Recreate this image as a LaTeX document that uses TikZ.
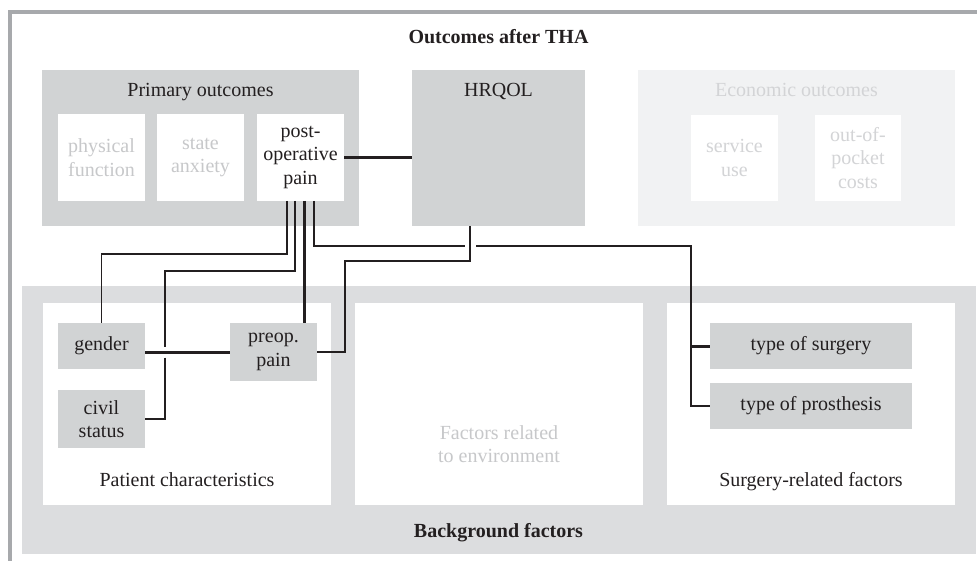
\documentclass[tikz,border=0pt]{standalone}
\usepackage{fontspec}
\setmainfont{Liberation Serif}
\definecolor{ink}{HTML}{231F20}
\definecolor{boxgray}{HTML}{D1D3D4}
\definecolor{bandgray}{HTML}{DCDDDF}
\definecolor{palegray}{HTML}{F1F2F3}
\definecolor{fadetext}{HTML}{C7C8CA}
\definecolor{paletext}{HTML}{D3D4D6}
\definecolor{framegray}{HTML}{A7A9AC}
\newcommand\diagfont{\fontsize{20}{23.5}\selectfont}
\tikzset{
  area/.style={rectangle, draw=none, inner sep=0pt, outer sep=0pt},
  item/.style={area, align=center, font=\diagfont, text=ink},
  caption/.style={anchor=base, inner sep=0pt, align=center, font=\diagfont, text=ink},
  thinlink/.style={draw=ink, line width=1.8pt},
  thicklink/.style={draw=ink, line width=3pt},
}
\begin{document}
\begin{tikzpicture}[x=1pt,y=-1pt]
\useasboundingbox (0,0) rectangle (977,561);

% outer frame
\draw[framegray, line width=3.5pt] (10,561) -- (10,12) -- (977,12);

\node[caption, font=\diagfont\bfseries] (title) at (498.5,44) {Outcomes after THA};

% outcome panels
\node[area, fill=boxgray, minimum width=317, minimum height=156] (primary) at (200.5,148) {};
\node[caption] (primaryT) at (200.5,96.7) {Primary outcomes};
\node[item, fill=white, text=fadetext, minimum width=87, minimum height=87] (phys) at (101.5,157.5) {physical\\function};
\node[item, fill=white, text=fadetext, minimum width=87, minimum height=87] (anx) at (200.5,157.5) {state\\anxiety};
\node[item, fill=white, minimum width=87, minimum height=87] (pop) at (300.5,157.5) {post-\\operative\\pain};

\node[area, fill=boxgray, minimum width=173, minimum height=156] (hrqol) at (498.5,148) {};
\node[caption] (hrqolT) at (498.5,96.7) {HRQOL};

\node[area, fill=palegray, minimum width=317, minimum height=156] (econ) at (796.5,148) {};
\node[caption, text=paletext] (econT) at (796.5,96.7) {Economic outcomes};
\node[item, fill=white, text=paletext, minimum width=87, minimum height=86] (serv) at (734.5,158) {service\\use};
\node[item, fill=white, text=paletext, minimum width=86, minimum height=86] (oop) at (858,158) {out-of-\\pocket\\costs};

% background factors band
\node[area, fill=bandgray, minimum width=954, minimum height=268] (band) at (499,420) {};
\node[caption, font=\diagfont\bfseries] (bandT) at (498.5,537.7) {Background factors};

\node[area, fill=white, minimum width=288, minimum height=202] (patient) at (187,404) {};
\node[caption] (patientT) at (187,486.7) {Patient characteristics};
\node[area, fill=white, minimum width=288, minimum height=202] (env) at (499,404) {};
\node[caption, text=fadetext] (envT) at (499,462.7) {Factors related\\to environment};
\node[area, fill=white, minimum width=288, minimum height=202] (surg) at (811,404) {};
\node[caption] (surgT) at (811,486.7) {Surgery-related factors};

\node[item, fill=boxgray, minimum width=87, minimum height=46] (gender) at (101.5,346) {gender};
\node[item, fill=boxgray, minimum width=87, minimum height=58] (civil) at (101.5,419) {civil\\status};
\node[item, fill=boxgray, minimum width=87, minimum height=58] (preop) at (273.5,352) {preop.\\pain};
\node[item, fill=boxgray, minimum width=202, minimum height=46] (tsurg) at (811,346) {type of surgery};
\node[item, fill=boxgray, minimum width=202, minimum height=46] (tpros) at (811,406) {type of prosthesis};

% junction and crossing points
\coordinate (hopTop) at (165,347.3);
\coordinate (hopBot) at (165,357.7);
\coordinate (gapL) at (465,246);
\coordinate (gapR) at (476,246);
\coordinate (bend) at (690.7,246);

% connectors
\draw[thicklink] (pop.east) -- (hrqol.west |- pop.east);
\draw[thinlink] ([xshift=-13.2pt]pop.south) -- ++(0,53) -| (gender.north);
\draw[thinlink] ([xshift=-5.5pt]pop.south) -- ++(0,69.7) -| (hopTop);
\draw[thinlink] (hopBot) |- (civil.east);
\draw[thicklink] ([xshift=3.5pt]pop.south) -- ([xshift=3.5pt]pop.south |- preop.north);
\draw[thinlink] ([xshift=13.8pt]pop.south) |- (gapL);
\draw[thinlink] (gapR) -- (bend) |- (tpros.west);
\draw[thicklink] (bend |- tsurg.west) -- (tsurg.west);
\draw[thinlink] ([xshift=-28.5pt]hrqol.south) -- ++(0,34.7) -| ([xshift=28pt]preop.east) -- (preop.east);
\draw[thicklink] (gender.east |- preop.west) -- (preop.west);
\end{tikzpicture}
\end{document}
